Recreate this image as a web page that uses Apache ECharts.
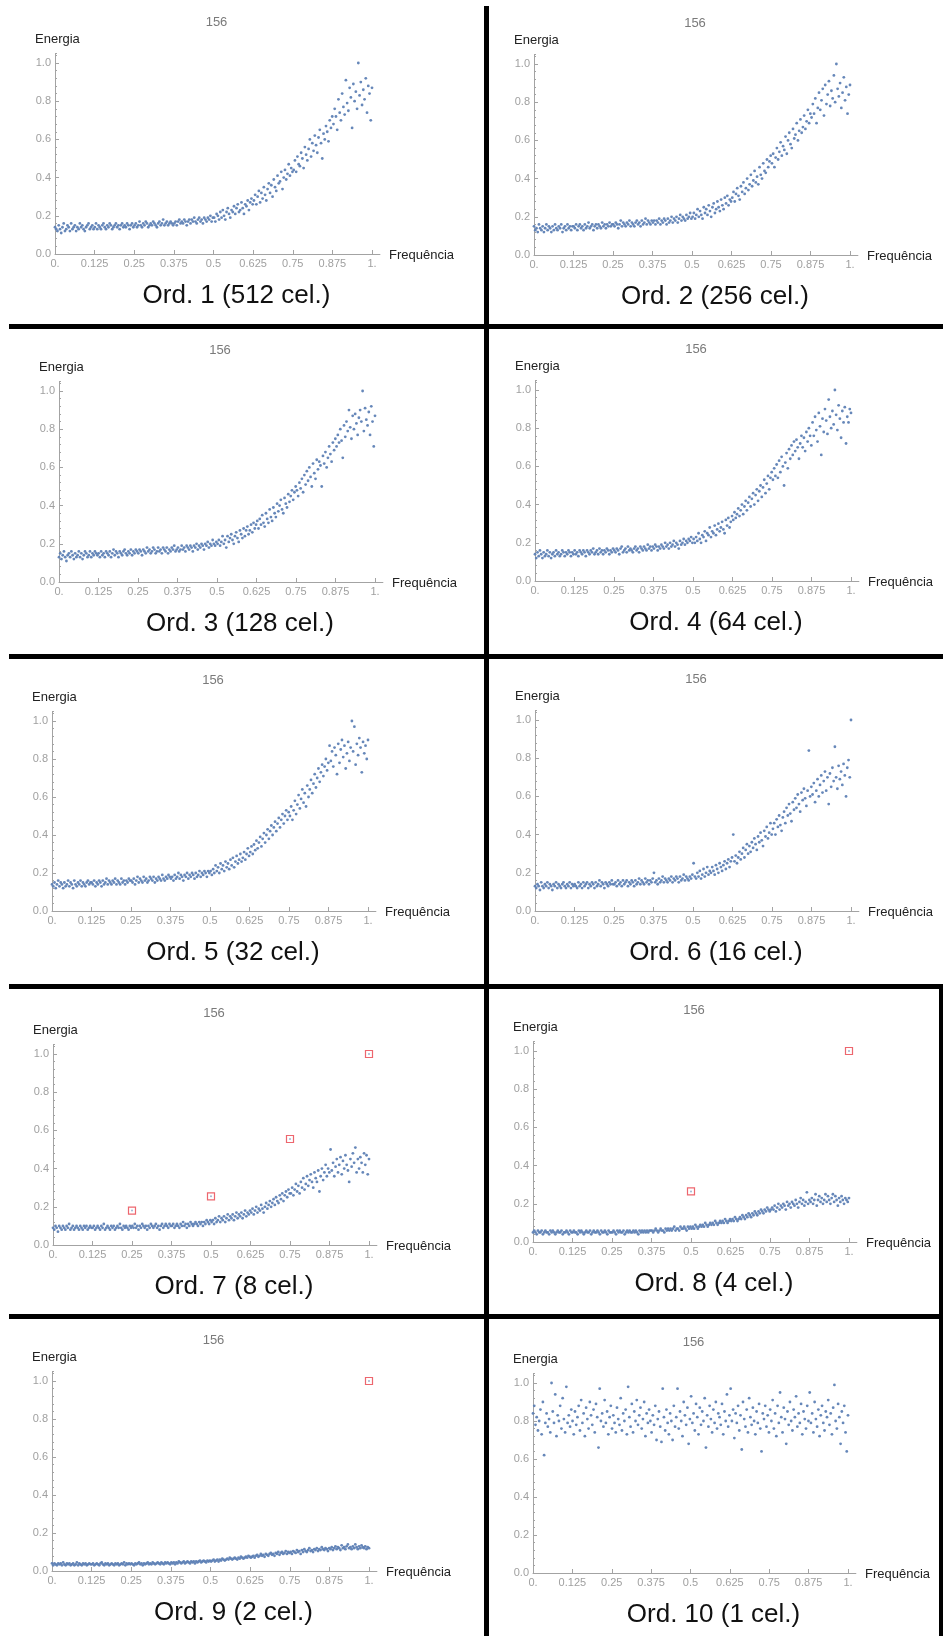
<!DOCTYPE html>
<html><head><meta charset="utf-8">
<script src="https://cdn.jsdelivr.net/npm/echarts@6/dist/echarts.min.js"></script>
<style>html,body{margin:0;padding:0;background:#fff}#c{width:943px;height:1636px}</style>
</head><body><div id="c"></div>
<script>
// ---- tick labels / texts ----
const xTickValues = [0, 0.125, 0.25, 0.375, 0.5, 0.625, 0.75, 0.875, 1];
const xTickLabels = ['0.', '0.125', '0.25', '0.375', '0.5', '0.625', '0.75', '0.875', '1.'];
const yTickValues = [0, 0.2, 0.4, 0.6, 0.8, 1.0];
const yTickLabels = ['0.0', '0.2', '0.4', '0.6', '0.8', '1.0'];
const yMinorStep = 0.04;
const panelTitle = '156';
const yName = 'Energia';
const xName = 'Frequência';
const captions = ['Ord. 1 (512 cel.)', 'Ord. 2 (256 cel.)', 'Ord. 3 (128 cel.)', 'Ord. 4 (64 cel.)', 'Ord. 5 (32 cel.)',
  'Ord. 6 (16 cel.)', 'Ord. 7 (8 cel.)', 'Ord. 8 (4 cel.)', 'Ord. 9 (2 cel.)', 'Ord. 10 (1 cel.)'];

// ---- energy values (evenly spaced frequencies 0..1) ----
const ord1 = [
.14,.13,.12,.15,.13,.11,.14,.16,.12,.13,.15,.14,.12,.16,.13,.14,.15,.12,.14,.13,.16,.14,.15,.13,.12,.14,.15,.16,.13,.14,.15,.13,
.14,.16,.13,.15,.14,.13,.15,.16,.14,.13,.15,.14,.16,.15,.13,.14,.15,.16,.14,.15,.13,.15,.16,.14,.15,.14,.16,.15,.13,.15,.16,.14,
.15,.16,.14,.15,.17,.15,.14,.16,.15,.17,.16,.14,.15,.16,.15,.17,.16,.15,.14,.16,.17,.15,.16,.18,.15,.16,.17,.15,.16,.17,.16,.15,
.16,.17,.15,.17,.18,.16,.17,.16,.18,.17,.15,.17,.18,.16,.18,.17,.19,.17,.16,.18,.19,.17,.18,.16,.19,.18,.17,.19,.18,.20,.17,.19,
.19,.17,.21,.20,.18,.22,.19,.23,.20,.18,.22,.24,.21,.19,.23,.22,.25,.21,.24,.26,.22,.23,.27,.24,.21,.26,.25,.28,.23,.27,.29,.26,
.28,.31,.26,.30,.33,.27,.32,.29,.35,.31,.28,.34,.37,.32,.36,.30,.39,.35,.33,.41,.37,.38,.43,.34,.40,.44,.39,.42,.47,.41,.45,.43,
.44,.49,.43,.51,.47,.46,.53,.50,.45,.56,.52,.49,.55,.60,.51,.58,.54,.62,.57,.53,.61,.65,.58,.50,.63,.60,.67,.64,.59,.70,.66,.72,
.68,.76,.72,.65,.81,.74,.70,.84,.77,.73,.91,.79,.75,.87,.82,.66,.89,.80,.85,.76,1.0,.83,.90,.78,.86,.81,.92,.74,.88,.84,.70,.87];
const ord2 = [
.15,.13,.14,.12,.16,.14,.13,.15,.12,.14,.16,.13,.15,.14,.12,.15,.13,.16,.14,.13,.15,.14,.16,.12,.14,.15,.13,.16,.14,.15,.13,.15,
.15,.14,.16,.13,.15,.16,.14,.15,.13,.16,.14,.15,.17,.14,.15,.16,.13,.15,.16,.14,.16,.15,.14,.17,.15,.16,.14,.16,.15,.17,.15,.16,
.16,.15,.17,.16,.14,.16,.18,.15,.17,.16,.15,.17,.16,.18,.15,.17,.16,.15,.17,.18,.16,.17,.15,.18,.16,.17,.19,.16,.18,.17,.16,.18,
.17,.18,.16,.18,.17,.19,.16,.18,.17,.19,.18,.16,.19,.17,.18,.20,.17,.19,.18,.20,.17,.19,.21,.18,.20,.19,.18,.21,.19,.20,.22,.19,
.20,.22,.19,.21,.24,.20,.23,.21,.19,.25,.22,.24,.21,.26,.23,.20,.25,.27,.22,.24,.28,.25,.23,.29,.26,.24,.30,.27,.31,.26,.29,.28,
.30,.33,.28,.32,.35,.31,.29,.36,.33,.38,.32,.35,.40,.34,.37,.42,.36,.39,.44,.38,.41,.37,.46,.42,.40,.48,.44,.43,.50,.46,.49,.52,
.48,.53,.46,.51,.56,.50,.54,.59,.52,.57,.55,.62,.53,.60,.64,.58,.56,.66,.61,.63,.69,.60,.65,.71,.64,.67,.73,.66,.70,.76,.69,.74,
.72,.79,.74,.82,.69,.77,.85,.76,.81,.87,.73,.89,.79,.84,.91,.78,.86,.82,.94,.80,1.0,.87,.83,.90,.77,.85,.93,.81,.88,.74,.84,.89];
const ord3 = [
.13,.15,.12,.14,.16,.13,.11,.14,.15,.13,.16,.14,.12,.15,.13,.14,.16,.13,.15,.12,.14,.16,.15,.13,.14,.16,.13,.15,.14,.16,.15,.14,
.15,.13,.16,.14,.15,.13,.16,.15,.14,.16,.13,.15,.17,.14,.16,.15,.13,.16,.15,.14,.16,.17,.15,.14,.16,.15,.17,.14,.16,.15,.17,.16,
.15,.17,.16,.14,.17,.16,.15,.18,.16,.17,.15,.16,.18,.17,.15,.16,.18,.16,.17,.15,.18,.17,.16,.18,.15,.17,.16,.18,.17,.19,.16,.17,
.18,.16,.17,.19,.17,.18,.16,.19,.18,.17,.19,.18,.16,.19,.18,.20,.17,.19,.18,.20,.19,.17,.20,.19,.21,.18,.20,.19,.22,.20,.19,.21,
.20,.22,.19,.21,.24,.20,.22,.18,.24,.21,.23,.25,.22,.20,.24,.26,.23,.21,.27,.25,.23,.28,.24,.27,.29,.25,.27,.30,.26,.31,.28,.30,
.32,.28,.33,.30,.35,.31,.29,.36,.33,.31,.38,.34,.32,.39,.36,.34,.41,.37,.40,.43,.38,.36,.44,.41,.39,.46,.42,.45,.48,.43,.47,.50,
.48,.45,.52,.49,.54,.47,.56,.51,.58,.53,.60,.55,.50,.62,.57,.54,.64,.59,.63,.61,.50,.66,.62,.68,.60,.65,.71,.67,.63,.73,.69,.75,
.71,.77,.73,.80,.74,.65,.82,.76,.84,.79,.90,.81,.75,.87,.80,.88,.83,.77,.86,.90,.84,1.0,.79,.91,.85,.82,.89,.77,.92,.84,.71,.87];
const ord4 = [
.14,.12,.15,.13,.16,.14,.12,.15,.13,.14,.16,.13,.15,.12,.14,.15,.13,.16,.14,.15,.13,.14,.16,.15,.13,.15,.14,.16,.15,.13,.15,.14,
.16,.14,.15,.13,.16,.15,.14,.16,.15,.13,.16,.15,.14,.16,.15,.17,.14,.15,.16,.14,.17,.15,.16,.14,.16,.15,.17,.16,.14,.16,.15,.17,
.16,.15,.17,.16,.14,.17,.18,.15,.16,.17,.15,.18,.16,.17,.16,.15,.17,.18,.16,.17,.15,.18,.17,.16,.18,.17,.16,.19,.17,.18,.16,.18,
.17,.19,.18,.16,.18,.17,.19,.18,.17,.20,.18,.19,.17,.20,.18,.19,.21,.18,.20,.19,.17,.21,.19,.20,.22,.19,.21,.20,.22,.21,.23,.20,
.22,.20,.23,.21,.25,.22,.20,.24,.23,.26,.21,.25,.24,.28,.23,.26,.25,.29,.24,.27,.30,.26,.28,.31,.27,.25,.32,.29,.33,.28,.31,.34,
.32,.36,.33,.35,.38,.34,.37,.40,.35,.39,.42,.37,.41,.44,.39,.43,.46,.40,.45,.48,.42,.47,.50,.44,.49,.53,.46,.51,.55,.48,.54,.57,
.53,.59,.55,.61,.54,.63,.57,.65,.60,.50,.62,.67,.59,.69,.64,.71,.66,.73,.68,.74,.70,.64,.72,.76,.70,.75,.68,.78,.73,.80,.76,.71,
.83,.76,.86,.79,.73,.88,.81,.66,.85,.78,.90,.84,.77,.95,.86,.80,.89,.82,1.0,.87,.79,.92,.85,.75,.89,.83,.91,.72,.86,.83,.90,.88];
const ord5 = [
.14,.13,.15,.12,.14,.16,.13,.15,.14,.12,.15,.13,.14,.16,.13,.15,.14,.12,.16,.14,.13,.15,.14,.16,.13,.15,.14,.13,.15,.16,.14,.15,
.15,.14,.16,.13,.15,.14,.16,.15,.13,.16,.14,.15,.17,.14,.16,.15,.14,.16,.15,.17,.14,.16,.15,.14,.17,.15,.16,.14,.16,.15,.17,.16,
.16,.15,.17,.14,.16,.18,.15,.17,.16,.15,.18,.16,.17,.15,.16,.18,.17,.16,.18,.15,.17,.16,.18,.17,.16,.19,.17,.16,.18,.17,.19,.18,
.17,.18,.16,.19,.17,.18,.20,.17,.19,.18,.16,.19,.18,.20,.17,.19,.18,.20,.19,.17,.20,.18,.19,.21,.18,.20,.19,.21,.20,.18,.21,.20,
.21,.19,.22,.20,.24,.21,.23,.20,.25,.22,.24,.21,.26,.23,.25,.22,.27,.24,.28,.23,.26,.29,.25,.27,.30,.26,.28,.31,.27,.30,.33,.29,
.31,.34,.30,.35,.32,.37,.33,.36,.39,.34,.38,.41,.36,.40,.43,.38,.42,.45,.40,.44,.47,.42,.46,.49,.44,.48,.51,.46,.50,.53,.48,.52,
.50,.55,.48,.53,.58,.51,.56,.61,.54,.59,.64,.57,.62,.55,.66,.60,.64,.69,.62,.67,.72,.65,.70,.75,.68,.73,.77,.71,.76,.80,.74,.78,
.87,.79,.84,.76,.86,.82,.72,.88,.78,.85,.90,.81,.87,.75,.83,.89,.79,.86,1.0,.84,.97,.77,.88,.82,.91,.86,.73,.89,.83,.87,.80,.90];
const ord6 = [
.13,.12,.14,.13,.11,.15,.13,.12,.14,.13,.15,.12,.14,.13,.11,.14,.13,.15,.12,.14,.13,.12,.14,.15,.13,.12,.14,.13,.15,.12,.14,.13,
.14,.13,.12,.15,.13,.14,.12,.15,.13,.14,.15,.12,.14,.13,.15,.14,.12,.15,.13,.14,.16,.13,.15,.14,.12,.15,.14,.13,.15,.14,.16,.14,
.14,.15,.13,.16,.14,.15,.13,.16,.14,.15,.16,.13,.15,.14,.16,.15,.13,.16,.14,.15,.17,.14,.16,.15,.14,.17,.15,.16,.14,.16,.15,.17,
.20,.15,.16,.14,.17,.15,.16,.18,.15,.17,.16,.15,.17,.16,.18,.15,.17,.16,.18,.17,.15,.18,.16,.17,.19,.16,.18,.17,.16,.18,.17,.19,
.25,.18,.17,.20,.18,.21,.17,.19,.22,.18,.20,.23,.19,.21,.20,.23,.21,.19,.24,.22,.20,.25,.23,.21,.24,.26,.22,.25,.27,.23,.26,.28,
.40,.26,.29,.25,.28,.31,.27,.30,.33,.28,.32,.35,.30,.34,.31,.36,.33,.38,.35,.32,.39,.36,.41,.37,.34,.42,.39,.44,.38,.41,.46,.40,
.43,.46,.40,.48,.44,.50,.45,.42,.49,.52,.46,.54,.50,.56,.51,.47,.57,.53,.59,.54,.61,.56,.52,.62,.58,.64,.59,.55,.63,.84,.60,.65,
.61,.67,.57,.63,.69,.60,.66,.71,.62,.68,.73,.63,.70,.56,.72,.65,.75,.68,.86,.70,.64,.76,.69,.73,.66,.77,.71,.60,.75,.79,.70,1.0];
const ord7 = [
.09,.08,.10,.09,.07,.10,.09,.08,.10,.09,.08,.10,.09,.11,.08,.09,.10,.08,.09,.10,.09,.08,.10,.09,.08,.10,.09,.10,.08,.09,.10,.09,
.09,.10,.08,.09,.10,.09,.08,.10,.09,.11,.08,.09,.10,.09,.08,.10,.09,.10,.08,.09,.10,.09,.11,.09,.08,.10,.09,.10,.09,.08,.10,.09,
.10,.09,.11,.09,.10,.08,.10,.09,.11,.10,.09,.10,.08,.10,.09,.11,.10,.09,.10,.11,.09,.10,.08,.10,.11,.09,.10,.11,.10,.09,.11,.10,
.10,.11,.09,.10,.11,.10,.09,.11,.10,.12,.10,.11,.09,.11,.10,.12,.11,.10,.11,.12,.11,.10,.12,.11,.12,.10,.12,.11,.13,.12,.11,.13,
.12,.13,.11,.14,.12,.13,.15,.12,.14,.13,.15,.12,.14,.16,.13,.15,.14,.16,.13,.15,.17,.14,.16,.15,.17,.14,.16,.18,.15,.17,.16,.18,
.17,.19,.16,.18,.20,.17,.19,.18,.21,.19,.17,.20,.22,.19,.21,.23,.20,.22,.24,.21,.25,.23,.22,.26,.24,.27,.23,.26,.28,.25,.29,.27,
.27,.30,.26,.29,.32,.28,.31,.27,.33,.30,.35,.29,.32,.36,.31,.34,.37,.33,.30,.38,.35,.33,.39,.28,.36,.40,.34,.38,.42,.36,.40,.38,
.50,.39,.43,.36,.41,.45,.38,.42,.46,.37,.44,.40,.47,.42,.39,.33,.45,.41,.48,.43,.51,.38,.45,.40,.46,.43,.38,.48,.42,.47,.37,.45];
const ord8 = [
.05,.06,.05,.04,.06,.05,.05,.06,.04,.05,.06,.05,.05,.04,.06,.05,.06,.05,.04,.05,.06,.05,.05,.06,.04,.05,.05,.06,.05,.04,.06,.05,
.05,.06,.05,.05,.04,.06,.05,.06,.05,.04,.05,.06,.05,.05,.06,.04,.05,.06,.05,.05,.06,.05,.04,.06,.05,.05,.06,.05,.04,.06,.05,.05,
.05,.06,.05,.04,.06,.05,.06,.05,.05,.06,.04,.05,.06,.05,.06,.05,.05,.06,.05,.06,.05,.04,.06,.05,.06,.05,.06,.05,.06,.05,.06,.06,
.06,.05,.06,.07,.06,.05,.06,.07,.06,.06,.05,.07,.06,.07,.06,.07,.06,.07,.08,.06,.07,.07,.06,.08,.07,.07,.08,.07,.06,.08,.07,.08,
.07,.08,.07,.09,.08,.07,.08,.09,.08,.09,.08,.10,.09,.08,.09,.10,.09,.10,.09,.11,.10,.09,.10,.11,.10,.11,.10,.12,.11,.10,.11,.12,
.11,.12,.11,.13,.12,.11,.12,.13,.12,.14,.13,.12,.14,.13,.15,.14,.13,.15,.14,.16,.15,.14,.16,.15,.17,.16,.15,.17,.16,.18,.17,.16,
.17,.18,.17,.19,.16,.18,.20,.17,.19,.18,.20,.19,.17,.21,.19,.20,.18,.21,.20,.19,.22,.20,.18,.21,.23,.20,.22,.19,.21,.26,.20,.22,
.21,.23,.20,.22,.25,.19,.22,.24,.21,.23,.20,.22,.25,.21,.24,.22,.20,.23,.25,.21,.24,.22,.19,.23,.21,.24,.22,.20,.23,.22,.21,.23];
const ord9 = [
.04,.03,.04,.035,.03,.04,.035,.04,.03,.045,.035,.03,.04,.035,.04,.03,.035,.04,.03,.035,.045,.03,.04,.035,.03,.04,.035,.04,.03,.035,.04,.035,
.035,.04,.03,.035,.04,.035,.03,.04,.045,.035,.03,.04,.035,.04,.03,.035,.04,.035,.03,.04,.035,.04,.03,.035,.04,.035,.045,.03,.04,.035,.04,.035,
.04,.035,.03,.04,.035,.04,.045,.035,.04,.03,.04,.035,.04,.045,.035,.04,.035,.045,.04,.035,.04,.045,.04,.035,.045,.04,.035,.045,.04,.045,.04,.035,
.045,.04,.045,.035,.045,.04,.05,.045,.04,.045,.05,.04,.045,.05,.045,.04,.05,.045,.05,.04,.05,.045,.05,.055,.045,.05,.055,.05,.045,.055,.05,.055,
.05,.055,.06,.05,.055,.06,.05,.06,.055,.065,.06,.055,.06,.065,.06,.07,.065,.06,.065,.07,.065,.06,.07,.065,.075,.07,.065,.07,.075,.07,.08,.075,
.07,.075,.08,.07,.08,.085,.075,.08,.09,.08,.085,.075,.09,.085,.08,.09,.095,.085,.09,.08,.095,.09,.10,.085,.095,.10,.09,.095,.105,.09,.10,.095,
.10,.09,.105,.10,.095,.11,.10,.105,.09,.11,.10,.115,.105,.10,.11,.12,.105,.11,.10,.115,.11,.12,.105,.115,.11,.125,.115,.11,.12,.115,.105,.12,
.115,.125,.11,.12,.13,.115,.125,.12,.11,.135,.12,.125,.115,.13,.14,.12,.125,.115,.13,.12,.14,.125,.115,.13,.12,.135,.125,.12,.13,.115,.125,.12];
const ord10 = [
.84,.88,.78,.82,.75,.80,.86,.73,.90,.62,.79,.84,.77,.81,.74,1.0,.85,.79,.94,.72,.83,.80,.88,.76,.92,.81,.74,.98,.79,.83,.77,.86,
.80,.73,.85,.78,.82,.88,.75,.91,.79,.84,.72,.87,.81,.76,.90,.83,.78,.86,.74,.89,.82,.66,.97,.80,.84,.77,.91,.79,.85,.73,.82,.88,
.76,.83,.79,.74,.87,.81,.78,.92,.75,.84,.80,.86,.73,.98,.82,.77,.89,.74,.85,.80,.91,.78,.83,.87,.76,.81,.90,.72,.84,.79,.86,.80,
.74,.83,.78,.88,.70,.81,.85,.77,.69,.97,.82,.75,.86,.79,.73,.84,.80,.70,.88,.77,.82,.97,.76,.85,.80,.72,.90,.83,.78,.87,.68,.81,
.93,.79,.84,.75,.89,.82,.73,.87,.78,.85,.80,.92,.66,.83,.77,.88,.81,.74,.86,.79,.90,.76,.84,.82,.78,.89,.73,.85,.80,.94,.77,.83,
.97,.80,.86,.71,.84,.79,.88,.75,.83,.65,.90,.81,.77,.86,.74,.92,.82,.78,.87,.80,.73,.85,.79,.89,.76,.64,.84,.81,.88,.77,.83,.74,
.86,.80,.91,.76,.84,.72,.88,.79,.95,.82,.74,.87,.81,.68,.85,.78,.90,.80,.75,.86,.82,.93,.77,.84,.79,.89,.73,.85,.81,.76,.88,.80,
.95,.79,.84,.74,.90,.81,.77,.86,.72,.83,.88,.79,.75,.85,.82,.91,.78,.84,.73,.87,.99,.80,.76,.89,.82,.68,.85,.79,.88,.74,.64,.83];

// ---- red-square marker points ----
const mark7X = [0.25, 0.5, 0.75, 1.0];
const mark7Y = [0.18, 0.255, 0.555, 1.0];
const mark8X = [0.5, 1.0];
const mark8Y = [0.265, 1.0];
const mark9X = [1.0];
const mark9Y = [1.0];

// ---- layout (pixels): [yAxisX, y(1.0), y(0.0), plotWidth] ----
const layout = [
  [55, 63, 254, 317], [534, 64, 255, 316],
  [59, 391, 582, 316], [535, 390, 581, 316],
  [52, 721, 911, 316], [535, 720, 911, 316],
  [53, 1054, 1245, 316], [533, 1051, 1242, 316],
  [52, 1381, 1571, 317], [533, 1383, 1573, 315]
];

const values = [ord1, ord2, ord3, ord4, ord5, ord6, ord7, ord8, ord9, ord10];
const marks = [null, null, null, null, null, null, [mark7X, mark7Y], [mark8X, mark8Y], [mark9X, mark9Y], null];

const F = '"Liberation Sans", Arial, sans-serif';
const AX = '#a3a3a3', LB = '#a0a0a0', DOT = '#5e81b5';
const lookup = (vals, labels) => v => { const i = vals.findIndex(t => Math.abs(t - v) < 1e-6); return i < 0 ? '' : labels[i]; };

const grid = [], xAxis = [], yAxis = [], series = [], graphic = [];
layout.forEach(([x0, y1, y0, W], k) => {
  const H = y0 - y1;
  grid.push({ left: x0, top: y1 - 0.05 * H, width: W * 1.025, height: H * 1.05, containLabel: false, outerBoundsMode: 'none' });
  xAxis.push({
    type: 'value', gridIndex: k, min: 0, max: 1.025, position: 'bottom',
    axisLine: { show: true, onZero: false, lineStyle: { color: AX, width: 1 } },
    axisTick: { show: true, inside: true, length: 4, customValues: xTickValues, lineStyle: { color: AX } },
    axisLabel: { show: true, customValues: xTickValues, formatter: lookup(xTickValues, xTickLabels), margin: 4, color: LB, fontSize: 11, fontFamily: F },
    splitLine: { show: false }
  });
  yAxis.push({
    type: 'value', gridIndex: k, min: 0, max: 1.05, position: 'left',
    axisLine: { show: true, onZero: false, lineStyle: { color: AX, width: 1 } },
    axisTick: { show: true, inside: true, length: 4, customValues: yTickValues, lineStyle: { color: AX } },
    axisLabel: { show: true, customValues: yTickValues, formatter: lookup(yTickValues, yTickLabels), margin: 4, color: LB, fontSize: 11, fontFamily: F },
    splitLine: { show: false }
  });
  yAxis.push({
    type: 'value', gridIndex: k, min: 0, max: 1.05, interval: yMinorStep, position: 'left',
    axisLine: { show: false },
    axisTick: { show: true, inside: true, length: 2, lineStyle: { color: AX } },
    axisLabel: { show: false }, splitLine: { show: false }
  });
  const v = values[k];
  series.push({
    type: 'scatter', xAxisIndex: k, yAxisIndex: 2 * k, symbol: 'circle', symbolSize: 2.8,
    itemStyle: { color: DOT, opacity: 0.95 }, silent: true,
    data: v.map((e, i) => [i / (v.length - 1), e])
  });
  if (marks[k]) {
    const [mx, my] = marks[k];
    const md = mx.map((x, i) => [x, my[i]]);
    series.push({
      type: 'scatter', xAxisIndex: k, yAxisIndex: 2 * k, symbol: 'rect', symbolSize: 7, z: 5, silent: true,
      itemStyle: { color: 'rgba(255,255,255,0)', borderColor: '#e8404a', borderWidth: 1.2 }, data: md
    });
    series.push({
      type: 'scatter', xAxisIndex: k, yAxisIndex: 2 * k, symbol: 'circle', symbolSize: 2, z: 6, silent: true,
      itemStyle: { color: '#8aa3c8' }, data: md
    });
  }
  const txt = (x, y, text, size, fill, align) => ({
    type: 'text', x: x, y: y, silent: true,
    style: { text: text, fill: fill, fontSize: size, fontFamily: F, align: align, textAlign: align, verticalAlign: 'middle', textVerticalAlign: 'middle' }
  });
  graphic.push(txt(x0 + W / 2 + 3, y1 - 41, panelTitle, 13, '#7a7a7a', 'center'));
  graphic.push(txt(x0 - 20, y1 - 24, yName, 13, '#222', 'left'));
  graphic.push(txt(x0 + W + 17, y0 + 1, xName, 13, '#222', 'left'));
  graphic.push(txt(x0 + W / 2 + 23, y0 + 42, captions[k], 26, '#111', 'center'));
});

// separators
const rect = (x, y, w, h) => ({ type: 'rect', silent: true, shape: { x: x, y: y, width: w, height: h }, style: { fill: '#000' } });
[324, 654, 984, 1314].forEach(y => graphic.push(rect(9, y, 934, 5)));
graphic.push(rect(484, 6, 5, 1630));
graphic.push(rect(939, 984, 4, 652));

const chart = echarts.init(document.getElementById('c'), null, { renderer: 'canvas' });
chart.setOption({ animation: false, backgroundColor: '#fff', grid, xAxis, yAxis, series, graphic });
</script></body></html>
